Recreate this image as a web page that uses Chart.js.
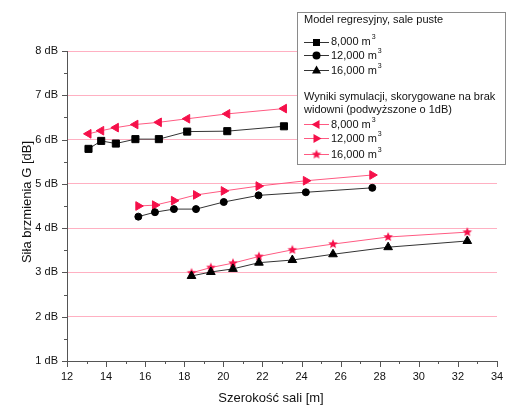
<!DOCTYPE html>
<html>
<head>
<meta charset="utf-8">
<script src="https://cdn.jsdelivr.net/npm/chart.js@4.4.0/dist/chart.umd.min.js"></script>
<style>
  html, body { margin: 0; padding: 0; background: #fff; }
  canvas { display: block; }
</style>
</head>
<body>
<canvas id="chart" width="506" height="407"></canvas>
<script>
// room widths [m] and strength G [dB] per hall volume
var widths8000 = [13.1, 13.75, 14.5, 15.5, 16.7, 18.15, 20.2, 23.1];
var model8000 = [5.79, 5.97, 5.91, 6.01, 6.01, 6.18, 6.19, 6.30];
var sim8000 = [6.13, 6.20, 6.27, 6.34, 6.39, 6.47, 6.58, 6.70];

var widths12000 = [15.65, 16.5, 17.47, 18.6, 20.02, 21.8, 24.22, 27.62];
var model12000 = [4.26, 4.36, 4.43, 4.43, 4.59, 4.74, 4.81, 4.91];
var sim12000 = [4.50, 4.52, 4.62, 4.75, 4.84, 4.95, 5.07, 5.20];

var widths16000 = [18.37, 19.36, 20.49, 21.82, 23.53, 25.61, 28.43, 32.48];
var model16000 = [2.92, 3.01, 3.08, 3.22, 3.28, 3.41, 3.57, 3.71];
var sim16000 = [2.99, 3.11, 3.21, 3.36, 3.51, 3.64, 3.80, 3.91];

var volumeLabels = ['8,000 m', '12,000 m', '16,000 m'];

var black = '#000000';
var blackLine = '#333333';
var red = '#f5104a';
var redLine = '#ff5a82';
var gridPink = '#ffb0c2';
var axisGray = '#555555';
var FONT = '"Liberation Sans", Arial, sans-serif';

function pairs(xs, ys) {
  return xs.map(function (x, i) { return { x: x, y: ys[i] }; });
}

function starCanvas(r, color) {
  var s = Math.ceil(r * 2) + 2;
  var c = document.createElement('canvas');
  c.width = s; c.height = s;
  var g = c.getContext('2d');
  g.fillStyle = color;
  g.beginPath();
  for (var i = 0; i < 10; i++) {
    var a = -Math.PI / 2 + i * Math.PI / 5;
    var rr = i % 2 ? r * 0.45 : r;
    g.lineTo(s / 2 + Math.cos(a) * rr, s / 2 + Math.sin(a) * rr);
  }
  g.closePath();
  g.fill();
  return c;
}
var star = starCanvas(5, red);

function series(label, xs, ys, lineColor, pointColor, style, radius, rotation) {
  return {
    label: label,
    data: pairs(xs, ys),
    borderColor: lineColor,
    borderWidth: 1,
    pointStyle: style,
    pointRadius: radius,
    pointHoverRadius: radius,
    pointRotation: rotation || 0,
    pointBackgroundColor: pointColor,
    pointBorderColor: pointColor,
    pointBorderWidth: 1,
    showLine: true,
    fill: false,
    tension: 0
  };
}

// legend markers drawn by hand
function marker(ctx, kind, x, y, color) {
  ctx.save();
  ctx.fillStyle = color;
  ctx.beginPath();
  if (kind === 'rect') {
    ctx.rect(x - 3.5, y - 3.5, 7, 7);
  } else if (kind === 'circle') {
    ctx.arc(x, y, 4, 0, Math.PI * 2);
  } else if (kind === 'up') {
    ctx.moveTo(x, y - 5); ctx.lineTo(x + 4.5, y + 3); ctx.lineTo(x - 4.5, y + 3);
  } else if (kind === 'left') {
    ctx.moveTo(x - 5, y); ctx.lineTo(x + 3, y - 4.5); ctx.lineTo(x + 3, y + 4.5);
  } else if (kind === 'right') {
    ctx.moveTo(x + 5, y); ctx.lineTo(x - 3, y - 4.5); ctx.lineTo(x - 3, y + 4.5);
  }
  ctx.closePath();
  ctx.fill();
  if (kind === 'star') ctx.drawImage(star, x - star.width / 2, y - star.height / 2);
  ctx.restore();
}

var decorations = {
  id: 'decorations',
  afterDraw: function (chart) {
    var ctx = chart.ctx;
    var xs = chart.scales.x, ys = chart.scales.y;
    var area = chart.chartArea;
    ctx.save();
    ctx.strokeStyle = axisGray;
    ctx.lineWidth = 1;
    // y tick marks (major + minor)
    for (var v = 1; v <= 8; v += 0.5) {
      var py = Math.round(ys.getPixelForValue(v)) + 0.5;
      var len = v % 1 === 0 ? 5 : 3;
      ctx.beginPath();
      ctx.moveTo(area.left - len, py); ctx.lineTo(area.left, py);
      ctx.stroke();
    }
    // x tick marks
    for (var w = 12; w <= 34; w += 1) {
      var px = Math.round(xs.getPixelForValue(w)) + 0.5;
      var l2 = w % 2 === 0 ? 6 : 3;
      ctx.beginPath();
      ctx.moveTo(px, area.bottom); ctx.lineTo(px, area.bottom + l2);
      ctx.stroke();
    }

    // axis titles
    ctx.fillStyle = '#111';
    ctx.font = '13px ' + FONT;
    ctx.textAlign = 'center';
    ctx.textBaseline = 'middle';
    ctx.fillText('Szerokość sali [m]', 271, 398);
    ctx.save();
    ctx.translate(27, 202);
    ctx.rotate(-Math.PI / 2);
    ctx.fillText('Siła brzmienia G [dB]', 0, 0);
    ctx.restore();

    // legend box
    ctx.fillStyle = '#fff';
    ctx.fillRect(297, 12, 209, 153);
    ctx.strokeStyle = '#8a8a8a';
    ctx.strokeRect(297.5, 12.5, 208, 152);

    ctx.textAlign = 'left';
    ctx.fillStyle = '#111';
    ctx.font = '11px ' + FONT;
    ctx.fillText('Model regresyjny, sale puste', 304, 20);
    ctx.fillText('Wyniki symulacji, skorygowane na brak', 304, 96.5);
    ctx.fillText('widowni (podwyższone o 1dB)', 304, 110);

    var rows = [
      { y: 41.5, line: blackLine, color: black, kind: 'rect', text: volumeLabels[0] },
      { y: 55, line: blackLine, color: black, kind: 'circle', text: volumeLabels[1] },
      { y: 70, line: blackLine, color: black, kind: 'up', text: volumeLabels[2] },
      { y: 124, line: redLine, color: red, kind: 'left', text: volumeLabels[0] },
      { y: 138, line: redLine, color: red, kind: 'right', text: volumeLabels[1] },
      { y: 154, line: redLine, color: red, kind: 'star', text: volumeLabels[2] }
    ];
    rows.forEach(function (r) {
      ctx.strokeStyle = r.line;
      ctx.beginPath();
      ctx.moveTo(304, Math.round(r.y) + 0.5); ctx.lineTo(329, Math.round(r.y) + 0.5);
      ctx.stroke();
      marker(ctx, r.kind, 316.5, Math.round(r.y) + 0.5, r.color);
      ctx.fillStyle = '#111';
      ctx.font = '11px ' + FONT;
      ctx.fillText(r.text, 331, r.y + 0.5);
      var tw = ctx.measureText(r.text).width;
      ctx.font = '7px ' + FONT;
      ctx.fillText('3', 331 + tw + 1, r.y - 4);
    });
    ctx.restore();
  }
};

var chart = new Chart(document.getElementById('chart').getContext('2d'), {
  type: 'scatter',
  data: {
    datasets: [
      series('8,000 m³ model', widths8000, model8000, blackLine, black, 'rect', 5),
      series('12,000 m³ model', widths12000, model12000, blackLine, black, 'circle', 3.5),
      series('16,000 m³ model', widths16000, model16000, blackLine, black, 'triangle', 5),
      series('8,000 m³ sym.', widths8000, sim8000, redLine, red, 'triangle', 5, -90),
      series('12,000 m³ sym.', widths12000, sim12000, redLine, red, 'triangle', 5, 90),
      series('16,000 m³ sym.', widths16000, sim16000, redLine, red, star, 5)
    ]
  },
  options: {
    responsive: false,
    animation: false,
    layout: { padding: { top: 51, right: 9, left: 0, bottom: 0 } },
    plugins: { legend: { display: false }, tooltip: { enabled: false } },
    scales: {
      x: {
        type: 'linear',
        min: 12, max: 34,
        afterFit: function (s) { s.height = 46; s.paddingRight = 0; s.paddingLeft = 0; },
        ticks: { stepSize: 2, padding: 9, color: '#111', font: { family: FONT, size: 11 } },
        grid: { display: false, drawTicks: false },
        border: { display: true, color: axisGray, width: 1 }
      },
      y: {
        type: 'linear',
        min: 1, max: 8,
        afterFit: function (s) { s.width = 67; },
        ticks: {
          stepSize: 1, padding: 9, color: '#111', font: { family: FONT, size: 11 },
          callback: function (v) { return v + ' dB'; }
        },
        grid: {
          drawTicks: false,
          color: function (c) { return c.tick && c.tick.value === 1 ? 'rgba(0,0,0,0)' : gridPink; },
          lineWidth: 1
        },
        border: { display: true, color: axisGray, width: 1 }
      }
    }
  },
  plugins: [decorations]
});
</script>
</body>
</html>
